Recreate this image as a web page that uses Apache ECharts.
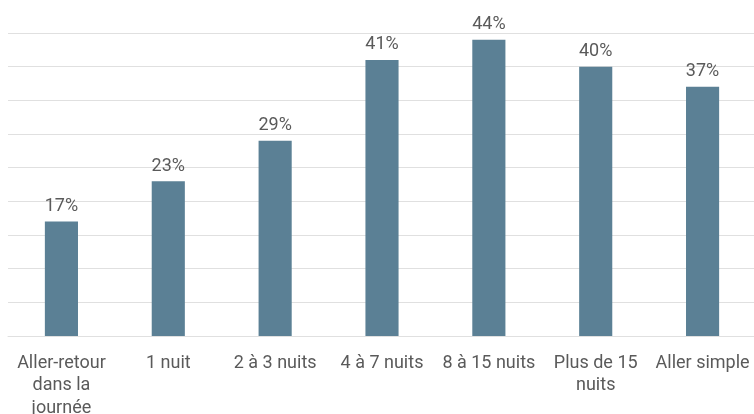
<!DOCTYPE html>
<html>
<head>
<meta charset="utf-8">
<script src="https://cdn.jsdelivr.net/npm/echarts@6/dist/echarts.min.js"></script>
<style>
html,body{margin:0;padding:0;background:#fff;}
#chart{width:754px;height:414px;}
</style>
</head>
<body>
<div id="chart"></div>
<script>
const categories = ["Aller-retour\ndans la\njournée", "1 nuit", "2 à 3 nuits", "4 à 7 nuits", "8 à 15 nuits", "Plus de 15\nnuits", "Aller simple"];
const values = [17, 23, 29, 41, 44, 40, 37];
const yMin = 0, yMax = 45, yInterval = 5;

const chart = echarts.init(document.getElementById('chart'), null, {renderer: 'canvas'});
chart.setOption({
  animation: false,
  textStyle: {fontFamily: 'Roboto'},
  grid: {left: 8, top: 33, width: 748, height: 303, containLabel: false, outerBoundsMode: 'none'},
  xAxis: {
    type: 'category',
    data: categories,
    axisLine: {show: true, lineStyle: {color: '#e0e0e0', width: 1}},
    axisTick: {show: false},
    axisLabel: {color: '#5a5a5a', fontSize: 18, lineHeight: 22.5, margin: 16, interval: 0, fontFamily: 'Roboto', hideOverlap: false}
  },
  yAxis: {
    type: 'value',
    min: yMin, max: yMax, interval: yInterval,
    axisLabel: {show: false},
    axisLine: {show: false},
    axisTick: {show: false},
    splitLine: {lineStyle: {color: '#e0e0e0', width: 1}}
  },
  series: [{
    type: 'bar',
    data: values,
    barWidth: '31%',
    itemStyle: {color: '#5b8095'},
    label: {show: true, position: 'top', distance: 6, formatter: '{c}%', color: '#5a5a5a', fontSize: 18, fontFamily: 'Roboto'}
  }]
});
</script>
</body>
</html>
